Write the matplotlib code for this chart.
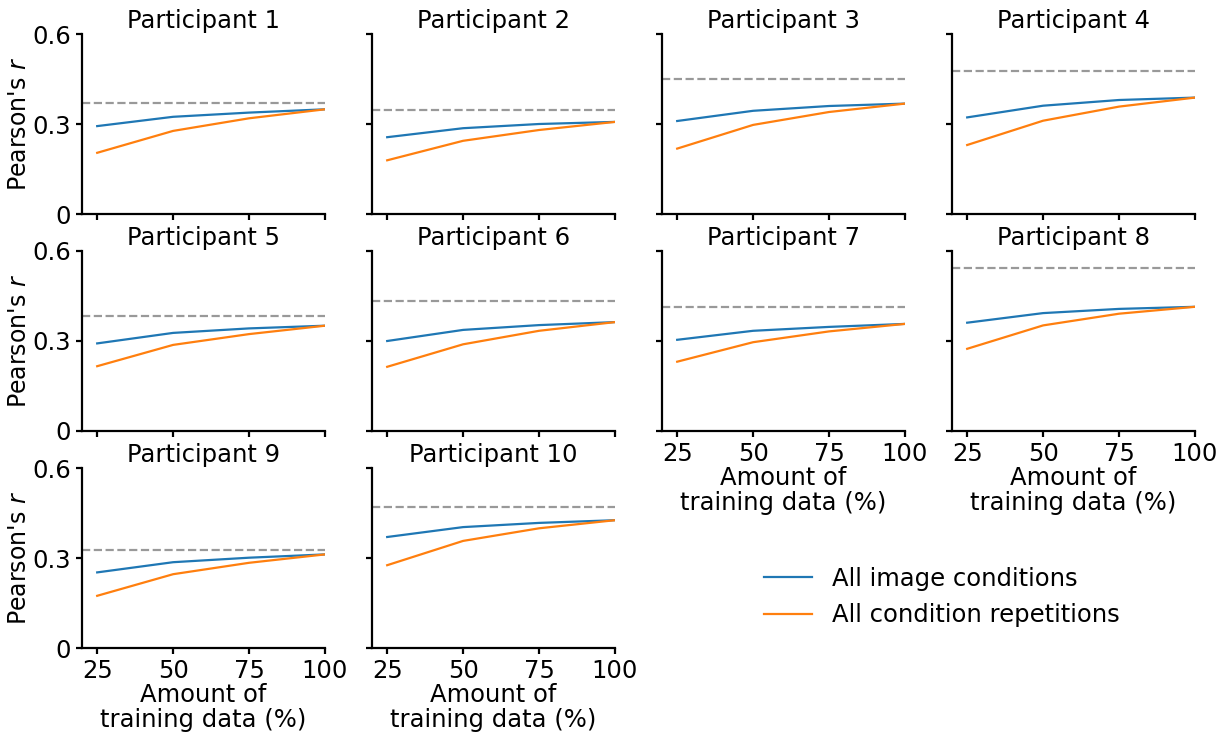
import matplotlib
matplotlib.use("Agg")
import matplotlib.pyplot as plt

# training data amounts (%)
amounts = [25, 50, 75, 100]

# encoding accuracy per participant, trained on all image conditions
img_cond = [
    [0.293, 0.324, 0.338, 0.349],
    [0.256, 0.286, 0.300, 0.307],
    [0.310, 0.344, 0.360, 0.368],
    [0.322, 0.361, 0.380, 0.388],
    [0.292, 0.327, 0.342, 0.351],
    [0.300, 0.337, 0.353, 0.363],
    [0.304, 0.334, 0.347, 0.357],
    [0.361, 0.393, 0.407, 0.414],
    [0.252, 0.286, 0.301, 0.312],
    [0.370, 0.403, 0.417, 0.426],
]
# trained on all condition repetitions
cond_rep = [
    [0.204, 0.277, 0.319, 0.349],
    [0.179, 0.244, 0.280, 0.307],
    [0.218, 0.297, 0.340, 0.368],
    [0.230, 0.311, 0.358, 0.388],
    [0.216, 0.287, 0.323, 0.351],
    [0.214, 0.289, 0.334, 0.363],
    [0.231, 0.296, 0.332, 0.357],
    [0.274, 0.352, 0.391, 0.414],
    [0.174, 0.246, 0.284, 0.312],
    [0.276, 0.357, 0.399, 0.426],
]
# noise ceiling
ceiling = [0.371, 0.346, 0.449, 0.477, 0.383, 0.435, 0.412, 0.543, 0.327, 0.471]

fs = 17.5
plt.rcParams["font.size"] = fs

fig = plt.figure(figsize=(12.28, 7.35), dpi=100)
left, width, gap = 82 / 1228, 243 / 1228, 47 / 1228
top, height, vgap = 34 / 735, 180 / 735, 37 / 735

for i in range(10):
    row, col = i // 4, i % 4
    x0 = left + col * (width + gap)
    y0 = 1 - top - height - row * (height + vgap)
    ax = fig.add_axes([x0, y0, width, height])
    ax.plot(amounts, img_cond[i], color="#1f77b4", lw=1.6, label="All image conditions")
    ax.plot(amounts, cond_rep[i], color="#ff7f0e", lw=1.6, label="All condition repetitions")
    ax.axhline(ceiling[i], color="gray", ls="--", lw=1.6, alpha=0.8)
    ax.set_xlim(20, 100)
    ax.set_ylim(0, 0.6)
    ax.set_xticks(amounts)
    ax.set_yticks([0, 0.3, 0.6])
    ax.spines["top"].set_visible(False)
    ax.spines["right"].set_visible(False)
    ax.spines["left"].set_linewidth(1.6)
    ax.spines["bottom"].set_linewidth(1.6)
    ax.tick_params(width=1.6, length=4.5, labelsize=fs)
    ax.set_title("Participant " + str(i + 1), fontsize=fs, pad=4)
    if col == 0:
        ax.set_yticklabels(["0", "0.3", "0.6"])
        ax.set_ylabel("Pearson's $r$", labelpad=1, fontsize=17)
    else:
        ax.set_yticklabels([])
    if i >= 6:
        ax.set_xticklabels(["25", "50", "75", "100"])
        ax.set_xlabel("Amount of\ntraining data (%)", labelpad=0, linespacing=1.05)
    else:
        ax.set_xticklabels([])

handles, labels = ax.get_legend_handles_labels()
fig.legend(handles, labels, loc="center left", bbox_to_anchor=(742 / 1228, 1 - 597 / 735),
           frameon=False, fontsize=fs)

fig.savefig("out.png", dpi=100)
